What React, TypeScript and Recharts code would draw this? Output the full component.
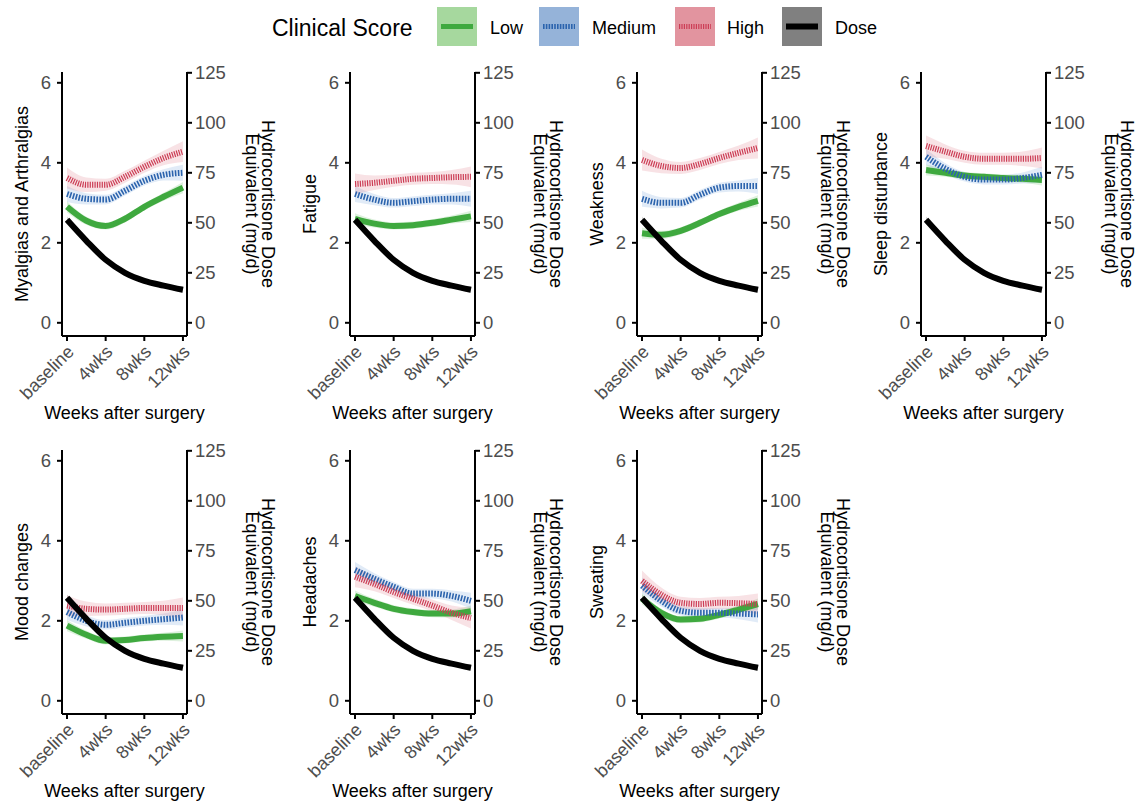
import { ComposedChart, Line, Area, XAxis, YAxis } from "recharts";

const WEEKS = [0, 2, 4, 6, 8, 10, 12];
const TICK_WEEKS = [0, 4, 8, 12];
const TICK_LABELS = ["baseline", "4wks", "8wks", "12wks"];
const SCORE_TICKS = [0, 2, 4, 6];
const DOSE_TICKS = [0, 25, 50, 75, 100, 125];

// hydrocortisone dose (mg/d), same curve in every panel
const DOSE = [51.5, 41, 31.5, 25, 21, 18.6, 16.5];
const DOSE_SE = [1.6, 1.1, 0.9, 0.9, 0.9, 1.1, 1.6];

// half-width of the confidence ribbons
const LOW_SE = [0.14, 0.1, 0.09, 0.09, 0.09, 0.1, 0.14];
const MED_SE = [0.2, 0.14, 0.12, 0.12, 0.12, 0.14, 0.2];
const HIGH_SE = [0.26, 0.18, 0.15, 0.15, 0.15, 0.18, 0.26];

const MYALGIA_LOW = [2.9, 2.55, 2.42, 2.6, 2.9, 3.15, 3.38];
const MYALGIA_MED = [3.22, 3.1, 3.08, 3.3, 3.55, 3.7, 3.75];
const MYALGIA_HIGH = [3.62, 3.45, 3.45, 3.65, 3.9, 4.12, 4.28];

const FATIGUE_LOW = [2.6, 2.48, 2.42, 2.44, 2.5, 2.58, 2.66];
const FATIGUE_MED = [3.22, 3.08, 3.0, 3.04, 3.08, 3.1, 3.1];
const FATIGUE_HIGH = [3.47, 3.5, 3.55, 3.6, 3.62, 3.64, 3.65];

const WEAKNESS_LOW = [2.24, 2.2, 2.3, 2.5, 2.72, 2.9, 3.05];
const WEAKNESS_MED = [3.1, 3.0, 3.0, 3.2, 3.38, 3.42, 3.42];
const WEAKNESS_HIGH = [4.07, 3.92, 3.87, 3.97, 4.12, 4.25, 4.37];

const SLEEP_LOW = [3.82, 3.75, 3.68, 3.65, 3.62, 3.6, 3.57];
const SLEEP_MED = [4.15, 3.85, 3.65, 3.58, 3.58, 3.62, 3.7];
const SLEEP_HIGH = [4.42, 4.28, 4.15, 4.1, 4.1, 4.1, 4.12];

const MOOD_LOW = [1.88, 1.65, 1.5, 1.52, 1.57, 1.6, 1.62];
const MOOD_MED = [2.22, 2.0, 1.9, 1.95, 2.0, 2.04, 2.08];
const MOOD_HIGH = [2.38, 2.3, 2.28, 2.3, 2.32, 2.32, 2.32];

const HEADACHE_LOW = [2.62, 2.45, 2.3, 2.22, 2.18, 2.18, 2.24];
const HEADACHE_MED = [3.27, 3.05, 2.85, 2.68, 2.68, 2.62, 2.5];
const HEADACHE_HIGH = [3.1, 2.92, 2.72, 2.55, 2.38, 2.2, 2.07];

const SWEATING_LOW = [2.55, 2.2, 2.03, 2.05, 2.15, 2.28, 2.42];
const SWEATING_MED = [2.88, 2.5, 2.25, 2.2, 2.2, 2.18, 2.16];
const SWEATING_HIGH = [3.0, 2.65, 2.45, 2.42, 2.45, 2.44, 2.42];

const PANELS = [
  { title: "Myalgias and Arthralgias", low: MYALGIA_LOW, med: MYALGIA_MED, high: MYALGIA_HIGH },
  { title: "Fatigue", low: FATIGUE_LOW, med: FATIGUE_MED, high: FATIGUE_HIGH },
  { title: "Weakness", low: WEAKNESS_LOW, med: WEAKNESS_MED, high: WEAKNESS_HIGH },
  { title: "Sleep disturbance", low: SLEEP_LOW, med: SLEEP_MED, high: SLEEP_HIGH },
  { title: "Mood changes", low: MOOD_LOW, med: MOOD_MED, high: MOOD_HIGH },
  { title: "Headaches", low: HEADACHE_LOW, med: HEADACHE_MED, high: HEADACHE_HIGH },
  { title: "Sweating", low: SWEATING_LOW, med: SWEATING_MED, high: SWEATING_HIGH },
];

// plot-area top-left corners
const PLOT_POS = [
  [62, 72],
  [350, 72],
  [637, 72],
  [921, 72],
  [62, 450],
  [350, 450],
  [637, 450],
];

const FONT = "'Liberation Sans', Arial, Helvetica, sans-serif";
const TICK_GREY = "#4d4d4d";
const TICK_FONT = 18.5;

const C = {
  low: "#3fa93f",
  med: "#2b63ad",
  high: "#cc3d55",
  dose: "#000000",
  lowBand: "#5cb85c",
  medBand: "#6a9bd8",
  highBand: "#e07a8a",
  doseBand: "#555555",
};

const PLOT_W = 125;
const PLOT_H = 264;
const LEFT_W = 62;
const RIGHT_W = 90;
const TOP_M = 72;
const CHART_W = LEFT_W + PLOT_W + RIGHT_W;
const CHART_H = 425;

type PanelDef = (typeof PANELS)[number];

function buildRows(p: PanelDef) {
  return WEEKS.map((w, i) => ({
    week: w,
    low: p.low[i],
    med: p.med[i],
    high: p.high[i],
    dose: DOSE[i],
    lowBand: [p.low[i] - LOW_SE[i], p.low[i] + LOW_SE[i]],
    medBand: [p.med[i] - MED_SE[i], p.med[i] + MED_SE[i]],
    highBand: [p.high[i] - HIGH_SE[i], p.high[i] + HIGH_SE[i]],
    doseBand: [DOSE[i] - DOSE_SE[i], DOSE[i] + DOSE_SE[i]],
  }));
}

const XTick = (props: any) => {
  const { x, y, payload } = props;
  const idx = TICK_WEEKS.indexOf(payload.value);
  return (
    <text
      transform={`translate(${x + 8},${y + 10}) rotate(-45)`}
      textAnchor="end"
      fontSize={18}
      fontFamily={FONT}
      fill={TICK_GREY}
    >
      {idx >= 0 ? TICK_LABELS[idx] : ""}
    </text>
  );
};

function Panel({ p, plotX, plotY }: { p: PanelDef; plotX: number; plotY: number }) {
  const data = buildRows(p);
  const axisStyle = { stroke: "#000", strokeWidth: 2 };
  const tickStyle = { fontSize: TICK_FONT, fill: TICK_GREY, fontFamily: FONT };
  const cx = LEFT_W + PLOT_W / 2;
  const cy = TOP_M + PLOT_H / 2;
  const rightX = LEFT_W + PLOT_W;
  return (
    <div style={{ position: "absolute", left: plotX - LEFT_W, top: plotY - TOP_M, width: CHART_W, height: CHART_H }}>
      <ComposedChart width={CHART_W} height={CHART_H} data={data} margin={{ top: TOP_M, right: 0, bottom: 0, left: 0 }}>
        <XAxis
          type="number"
          dataKey="week"
          domain={[-0.52, 12.42]}
          ticks={TICK_WEEKS}
          interval={0}
          height={CHART_H - TOP_M - PLOT_H}
          axisLine={axisStyle}
          tickLine={axisStyle}
          tickSize={5}
          tick={<XTick />}
        />
        <YAxis
          yAxisId="score"
          orientation="left"
          width={LEFT_W}
          domain={[-0.33, 6.27]}
          ticks={SCORE_TICKS}
          interval={0}
          axisLine={axisStyle}
          tickLine={axisStyle}
          tickSize={5}
          tickMargin={6}
          tick={tickStyle}
        />
        <YAxis
          yAxisId="dose"
          orientation="right"
          width={RIGHT_W}
          domain={[-6.6, 125.4]}
          ticks={DOSE_TICKS}
          interval={0}
          axisLine={axisStyle}
          tickLine={axisStyle}
          tickSize={5}
          tickMargin={3}
          tick={{ ...tickStyle, textAnchor: "start" }}
        />
        <Area yAxisId="dose" dataKey="doseBand" type="monotone" stroke="none" fill={C.doseBand} fillOpacity={0.25} isAnimationActive={false} activeDot={false} />
        <Area yAxisId="score" dataKey="lowBand" type="monotone" stroke="none" fill={C.lowBand} fillOpacity={0.2} isAnimationActive={false} activeDot={false} />
        <Area yAxisId="score" dataKey="medBand" type="monotone" stroke="none" fill={C.medBand} fillOpacity={0.2} isAnimationActive={false} activeDot={false} />
        <Area yAxisId="score" dataKey="highBand" type="monotone" stroke="none" fill={C.highBand} fillOpacity={0.22} isAnimationActive={false} activeDot={false} />
        <Line yAxisId="score" dataKey="low" type="monotone" stroke={C.low} strokeWidth={6} dot={false} activeDot={false} isAnimationActive={false} />
        <Line yAxisId="score" dataKey="med" type="monotone" stroke={C.med} strokeWidth={6} strokeDasharray="1.6 1.4" dot={false} activeDot={false} isAnimationActive={false} />
        <Line yAxisId="score" dataKey="high" type="monotone" stroke={C.high} strokeWidth={6} strokeDasharray="1.2 1.2" dot={false} activeDot={false} isAnimationActive={false} />
        <Line yAxisId="dose" dataKey="dose" type="monotone" stroke={C.dose} strokeWidth={6} dot={false} activeDot={false} isAnimationActive={false} />
      </ComposedChart>
      <svg
        width={CHART_W + 20}
        height={CHART_H}
        style={{ position: "absolute", left: 0, top: 0, pointerEvents: "none", overflow: "visible" }}
      >
        <text
          transform={`translate(${LEFT_W - 34},${cy}) rotate(-90)`}
          textAnchor="middle"
          fontSize={18}
          fontFamily={FONT}
          fill="#000"
        >
          {p.title}
        </text>
        <text transform={`translate(${rightX + 75},${cy}) rotate(90)`} textAnchor="middle" fontSize={18} fontFamily={FONT} fill="#000">
          Hydrocortisone Dose
        </text>
        <text transform={`translate(${rightX + 59},${cy}) rotate(90)`} textAnchor="middle" fontSize={18} fontFamily={FONT} fill="#000">
          Equivalent (mg/d)
        </text>
        <text x={cx} y={TOP_M + PLOT_H + 83} textAnchor="middle" fontSize={18} fontFamily={FONT} fill="#000">
          Weeks after surgery
        </text>
      </svg>
    </div>
  );
}

const LEGEND_ITEMS = [
  { label: "Low", box: "#a6d89e", line: C.low, dash: undefined as string | undefined, boxX: 437, textX: 490 },
  { label: "Medium", box: "#95b3d9", line: C.med, dash: "1.6 1.2", boxX: 539, textX: 592 },
  { label: "High", box: "#e2949f", line: C.high, dash: "1.2 1.2", boxX: 675, textX: 727 },
  { label: "Dose", box: "#808080", line: "#000", dash: undefined, boxX: 782, textX: 835 },
];

function LegendBar() {
  return (
    <svg width={1137} height={56} style={{ position: "absolute", left: 0, top: 0 }}>
      <text x={272} y={36} fontSize={23} fontFamily={FONT} fill="#000">
        Clinical Score
      </text>
      {LEGEND_ITEMS.map((it) => (
        <g key={it.label}>
          <rect x={it.boxX} y={7} width={40} height={39} fill={it.box} />
          <line
            x1={it.boxX + 4}
            x2={it.boxX + 36}
            y1={26.5}
            y2={26.5}
            stroke={it.line}
            strokeWidth={it.label === "Dose" ? 6 : 5}
            strokeDasharray={it.dash}
          />
          <text x={it.textX} y={34} fontSize={18} fontFamily={FONT} fill="#000">
            {it.label}
          </text>
        </g>
      ))}
    </svg>
  );
}

export default function App() {
  return (
    <div
      style={{
        position: "absolute",
        left: 0,
        top: 0,
        width: 1137,
        height: 805,
        overflow: "hidden",
        background: "#fff",
        fontFamily: FONT,
      }}
    >
      <LegendBar />
      {PANELS.map((p, i) => (
        <Panel key={p.title} p={p} plotX={PLOT_POS[i][0]} plotY={PLOT_POS[i][1]} />
      ))}
    </div>
  );
}
